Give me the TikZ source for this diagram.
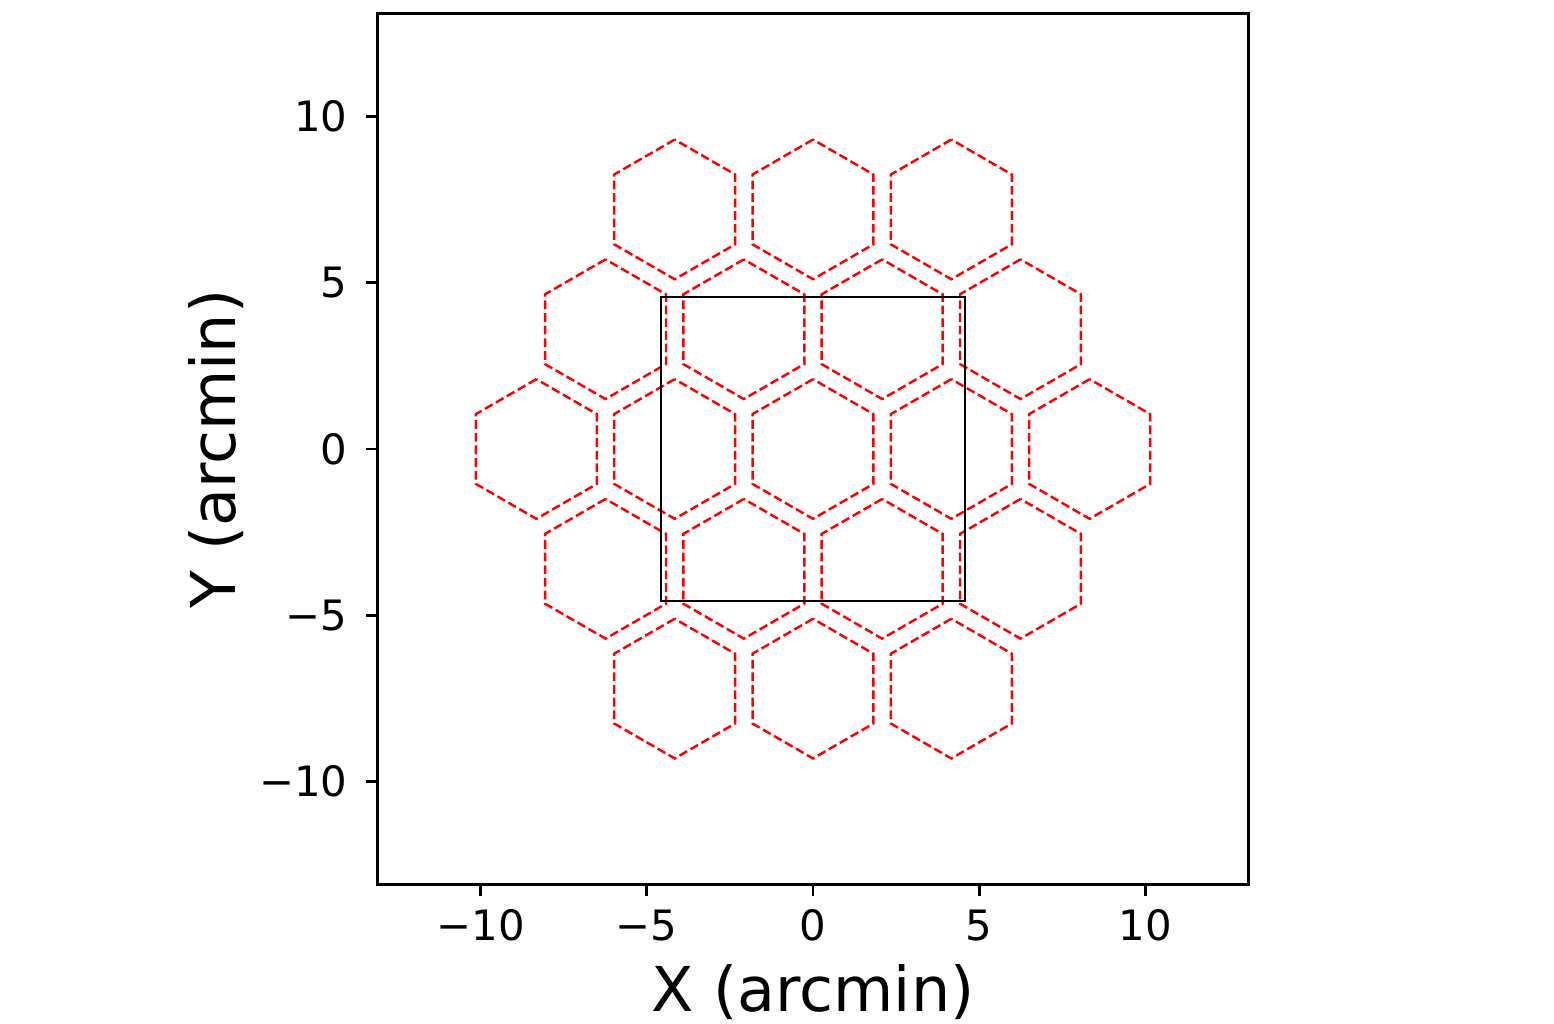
\documentclass[tikz,border=0pt]{standalone}
\usepackage{fontspec}
\setmainfont{DejaVu Sans}

\begin{document}
\begin{tikzpicture}[x=0.3325cm,y=0.3325cm]
    \tikzstyle{hexline}=[red,line width=0.7pt,dash pattern=on 2.5pt off 1.1pt]
    \tikzstyle{frame}=[black,line width=0.8pt]
    \tikzstyle{ticklabel}=[inner sep=0pt,font=\fontsize{11.9}{14}\selectfont]
    \tikzstyle{axislabel}=[inner sep=0pt,font=\fontsize{17.6}{21}\selectfont]
    \useasboundingbox (-24.451,-17.293) rectangle (22.286,13.504);
    % 19 fields on a hexagonal grid
    \foreach \q in {-2,...,2}
      \foreach \r in {-2,...,2} {
        \pgfmathtruncatemacro{\s}{abs(\q+\r)}
        \ifnum\s<3
          \draw[hexline,shift={({4.16*(\q+0.5*\r)},{3.603*\r})}]
            (90:2.1) -- (150:2.1) -- (210:2.1) -- (270:2.1) -- (330:2.1) -- (30:2.1) -- cycle;
        \fi
      }
    % detector square
    \draw[frame] (-4.57,-4.57) rectangle (4.57,4.57);
    % axes
    \draw[frame] (-13.1,-13.1) rectangle (13.1,13.1);
    \foreach \t/\lab in {-10/−10,-5/−5,0/0,5/5,10/10} {
        \draw[frame] (\t,-13.1) -- (\t,-13.43);
        \draw[frame] (-13.1,\t) -- (-13.43,\t);
        \node[ticklabel,anchor=base] (xtick\t) at (\t,-14.77) {\lab};
        \node[ticklabel,anchor=east] (ytick\t) at (-13.98,\t) {\lab};
    }
    \node[axislabel,anchor=base] (xlabel) at (0,-16.93) {X (arcmin)};
    \node[axislabel,anchor=base,rotate=90] (ylabel) at (-17.38,0) {Y (arcmin)};
\end{tikzpicture}
\end{document}
